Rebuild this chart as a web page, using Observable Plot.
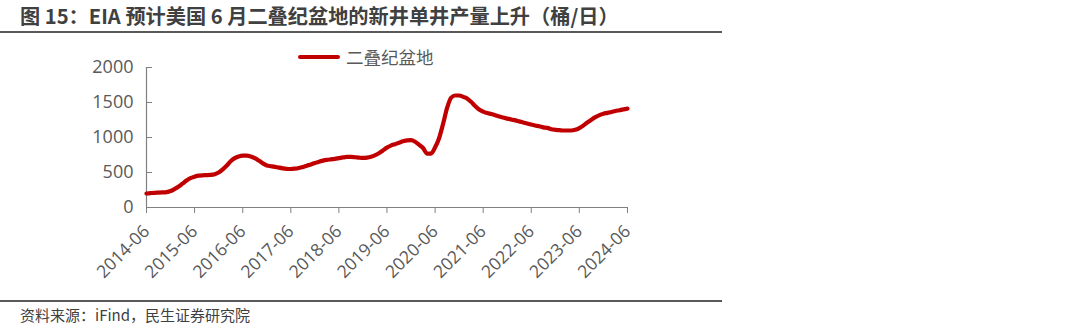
<!DOCTYPE html>
<html><head><meta charset="utf-8">
<script src="https://cdn.jsdelivr.net/npm/d3@7"></script>
<script src="https://cdn.jsdelivr.net/npm/@observablehq/plot@0.6"></script>
<style>
body{margin:0;background:#fff;width:1080px;height:329px;overflow:hidden;position:relative;font-family:"Noto Sans CJK SC","Noto Sans",sans-serif;}
#title{position:absolute;left:20px;top:3px;font-size:20.2px;font-weight:bold;color:#404040;white-space:nowrap;line-height:26px;}
#tline{position:absolute;left:0;top:31px;width:722px;height:2px;background:#595959;}
#legend{position:absolute;left:298px;top:45px;font-size:17.5px;color:#595959;display:flex;align-items:center;line-height:24px;}
#legend span.sw{display:inline-block;width:42px;height:4.5px;background:#c00000;border-radius:2px;margin-right:6px;}
#chart{position:absolute;left:0;top:40px;}
#sline{position:absolute;left:0;top:300px;width:722px;height:2px;background:#595959;}
#source{position:absolute;left:20px;top:305px;font-size:15px;color:#404040;white-space:nowrap;line-height:20px;}
</style></head>
<body>
<div id="title">图 15：EIA 预计美国 6 月二叠纪盆地的新井单井产量上升（桶/日）</div>
<div id="tline"></div>
<div id="legend"><span class="sw"></span><span>二叠纪盆地</span></div>
<div id="chart"></div>
<div id="sline"></div>
<div id="source">资料来源：iFind，民生证券研究院</div>
<script>
const seriesName = "二叠纪盆地";
const startMonth = "2014-06";
const values = [
 200,205,210,212,215,220,235,265,300,340,385,420,
 440,455,460,462,465,475,500,545,600,660,705,730,
 740,740,730,705,670,630,600,590,580,570,560,553,
 550,555,565,580,598,615,635,655,670,680,688,695,
 705,715,722,722,718,712,708,712,725,745,775,815,
 855,885,905,925,945,960,962,940,895,850,770,770,
 860,990,1200,1430,1570,1600,1600,1580,1555,1510,1450,1400,
 1370,1350,1335,1318,1300,1285,1270,1257,1245,1230,1215,1200,
 1185,1172,1160,1145,1138,1118,1110,1105,1100,1100,1100,1110,
 1135,1170,1215,1255,1290,1320,1340,1352,1365,1378,1390,1402,
 1412
];
const xTickLabels = ["2014-06","2015-06","2016-06","2017-06","2018-06","2019-06","2020-06","2021-06","2022-06","2023-06","2024-06"];
const yTicks = [0,500,1000,1500,2000];

const parse = d3.utcParse("%Y-%m");
const t0 = parse(startMonth);
const data = values.map((v,i)=>({date: d3.utcMonth.offset(t0,i), value: v}));
const xTicks = xTickLabels.map(parse);

const plot = Plot.plot({
  width: 720, height: 260,
  marginLeft: 146, marginRight: 93, marginTop: 27, marginBottom: 93,
  style: {fontFamily: "'Open Sans','Noto Sans',sans-serif", fontSize: "17.5px", color: "#595959", background: "transparent"},
  x: {type: "utc", domain: [xTicks[0], xTicks[xTicks.length-1]]},
  y: {domain: [0, 2000]},
  marks: [
    Plot.axisY({ticks: yTicks, tickFormat: d => String(d), tickSize: -6, tickPadding: 19, stroke: "#808080", fill: "#595959", label: null, fontSize: 18}),
    Plot.axisX({ticks: xTicks, tickFormat: d3.utcFormat("%Y-%m"), tickRotate: -45, tickSize: 6, tickPadding: 15, stroke: "#808080", fill: "#595959", label: null, fontSize: 17.5}),
    Plot.ruleX([xTicks[0]], {y1: 0, y2: 2000, stroke: "#808080", strokeWidth: 1.2}),
    Plot.ruleY([0], {stroke: "#808080", strokeWidth: 1.2}),
    Plot.line(data, {x: "date", y: "value", stroke: "#c00000", strokeWidth: 4.2, curve: "monotone-x"})
  ]
});
document.getElementById("chart").appendChild(plot);
</script>
</body></html>
